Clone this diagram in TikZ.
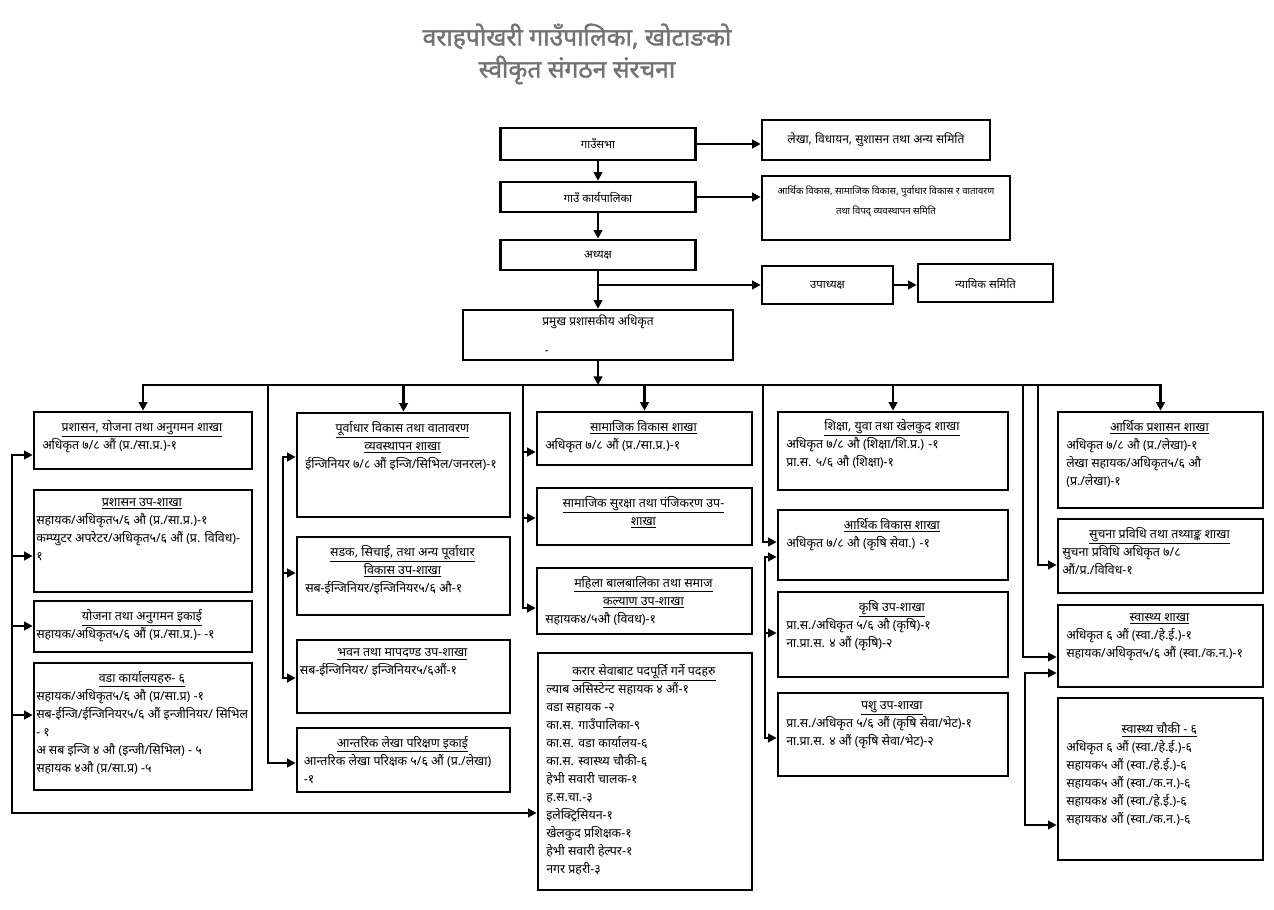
\documentclass[tikz,border=0pt]{standalone}
\usepackage{fontspec}
\setmainfont[Script=Devanagari]{Noto Sans}
\newfontfamily\titlefont[Script=Devanagari, FakeBold=1.6]{Noto Sans}
\usetikzlibrary{arrows.meta,positioning}
\definecolor{titlegray}{RGB}{115,115,115}

\begin{document}
\begin{tikzpicture}[
    x=0.75pt, y=-0.75pt,
    every node/.style={font=\fontsize{8.5}{13.5}\selectfont},
    orgbox/.style={rectangle, draw=black, line width=2pt, inner sep=0pt},
    unittext/.style={inner sep=0pt, align=left, font=\fontsize{9.3}{13.5}\selectfont},
    wire/.style={line width=2pt, line cap=rect},
    conn/.style={line width=2pt, line cap=rect, -{Triangle[length=6.5pt,width=6.5pt]}}
]
\useasboundingbox (0,0) rectangle (1274,910);

% ==================== TITLE ====================
\node[font=\titlefont\fontsize{18.5}{24}\selectfont, text=titlegray, align=center] (title) at (577,54) {वराहपोखरी गाउँपालिका, खोटाङको\\स्वीकृत संगठन संरचना};

% ==================== TOP CHAIN ====================
\node[orgbox, minimum width=146.25pt, minimum height=24pt] (sabha) at (598,144) {गाउँसभा};
\node[orgbox, minimum width=171pt, minimum height=30pt, font=\fontsize{9}{13.5}\selectfont] (samiti1) at (876,140) {लेखा, विधायन, सुशासन तथा अन्य समिति};
\node[orgbox, minimum width=146.25pt, minimum height=22.5pt] (karya) at (598,197) {गाउँ कार्यपालिका};
\node[orgbox, minimum width=186pt, minimum height=48pt] (samiti2) at (886,208) {};
\node[align=center, inner sep=0pt, font=\fontsize{7.2}{15}\selectfont, below=8pt of samiti2.north] (samiti2t) {आर्थिक विकास, सामाजिक विकास, पुर्वाधार विकास र वातावरण\\तथा विपद् व्यवस्थापन समिति};
\node[orgbox, minimum width=146.25pt, minimum height=22.5pt] (adhyaksha) at (598,255) {अध्यक्ष};
\node[orgbox, minimum width=98.25pt, minimum height=28.5pt] (upa) at (827.5,285) {उपाध्यक्ष};
\node[orgbox, minimum width=101.25pt, minimum height=28.5pt] (nyayik) at (985.5,283) {न्यायिक समिति};
\node[orgbox, minimum width=202.5pt, minimum height=37.5pt, align=center, font=\fontsize{9}{13.5}\selectfont] (pramukh) at (598,335) {प्रमुख प्रशासकीय अधिकृत\\[8.25pt]\makebox[0pt][r]{-\hspace{37pt}}};

\draw[conn] (sabha) -- (sabha -| samiti1.west);
\draw[conn] (sabha) -- (karya);
\draw[conn] (karya) -- (karya -| samiti2.west);
\draw[conn] (karya) -- (adhyaksha);
\draw[conn] (adhyaksha) -- (pramukh);
\draw[conn] (adhyaksha.south |- upa) -- (upa);
\draw[conn] (upa) -- (upa -| nyayik.west);

% ==================== COLUMN 1 ====================
\node[orgbox, minimum width=163.5pt, minimum height=42.75pt] (b1) at (143,440.5) {};
\node[orgbox, minimum width=163.5pt, minimum height=76.5pt] (b2) at (143,541) {};
\node[orgbox, minimum width=163.5pt, minimum height=38.25pt] (b3) at (143,626.5) {};
\node[orgbox, minimum width=163.5pt, minimum height=95.25pt] (b4) at (143,726.5) {};
\node[unittext, below right=7pt and 7pt of b1.north west] (b1t) {\makebox[149.5pt]{\underline{प्रशासन, योजना  तथा अनुगमन शाखा}}\\अधिकृत ७/८ औं (प्र./सा.प्र.)-१};
\node[unittext, below right=7pt and 2.5pt of b2.north west] (b2t) {\makebox[158.5pt]{\underline{प्रशासन उप-शाखा}}\\सहायक/अधिकृत५/६ औ (प्र./सा.प्र.)-१\\कम्प्युटर अपरेटर/अधिकृत५/६ औं (प्र. विविध)-\\१};
\node[unittext, below right=7pt and 2.5pt of b3.north west] (b3t) {\makebox[158.5pt]{\underline{योजना तथा अनुगमन इकाई}}\\सहायक/अधिकृत५/६ औं (प्र./सा.प्र.)- -१};
\node[unittext, below right=7pt and 2.5pt of b4.north west] (b4t) {\makebox[158.5pt]{\underline{वडा कार्यालयहरु- ६}}\\सहायक/अधिकृत५/६ औ (प्र/सा.प्र) -१\\सब-ईन्जि/ईन्जिनियर५/६ औं इन्जीनियर/ सिभिल\\- १\\अ सब इन्जि ४ औ (इन्जी/सिभिल) - ५\\सहायक ४औ (प्र/सा.प्र) -५};

% ==================== COLUMN 2 ====================
\node[orgbox, minimum width=159.75pt, minimum height=78pt] (c1) at (403.5,465) {};
\node[orgbox, minimum width=159.75pt, minimum height=58.5pt] (c2) at (403.5,576) {};
\node[orgbox, minimum width=159.75pt, minimum height=54.75pt] (c3) at (403.5,676.5) {};
\node[orgbox, minimum width=159.75pt, minimum height=48pt] (c4) at (403.5,760) {};
\node[unittext, below right=7pt and 7pt of c1.north west] (c1t) {\makebox[145.75pt]{\underline{पूर्वाधार विकास तथा वातावरण}}\\\makebox[145.75pt]{\underline{व्यवस्थापन शाखा}}\\ईन्जिनियर ७/८ औं इन्जि/सिभिल/जनरल)-१};
\node[unittext, below right=7pt and 7pt of c2.north west] (c2t) {\makebox[145.75pt]{\underline{सडक, सिचाई, तथा अन्य पूर्वाधार}}\\\makebox[145.75pt]{\underline{विकास उप-शाखा}}\\सब-ईन्जिनियर/इन्जिनियर५/६ औ-१};
\node[unittext, below right=7pt and 3pt of c3.north west] (c3t) {\makebox[153.75pt]{\underline{भवन तथा मापदण्ड उप-शाखा}}\\सब-ईन्जिनियर/ इन्जिनियर५/६औं-१};
\node[unittext, below right=7pt and 6pt of c4.north west] (c4t) {\makebox[147.75pt]{\underline{आन्तरिक लेखा परिक्षण इकाई}}\\आन्तरिक लेखा परिक्षक ५/६ औं  (प्र./लेखा)\\-१};

% ==================== COLUMN 3 ====================
\node[orgbox, minimum width=161.25pt, minimum height=39.75pt] (d1) at (644.5,438.5) {};
\node[orgbox, minimum width=161.25pt, minimum height=42.75pt] (d2) at (644.5,516.5) {};
\node[orgbox, minimum width=161.25pt, minimum height=49.5pt] (d3) at (644.5,601) {};
\node[orgbox, minimum width=160.5pt, minimum height=177.75pt] (d4) at (645,771.5) {};
\node[unittext, below right=7pt and 7pt of d1.north west] (d1t) {\makebox[147.25pt]{\underline{सामाजिक विकास शाखा}}\\अधिकृत ७/८ औं (प्र./सा.प्र.)-१};
\node[unittext, below right=7pt and 7pt of d2.north west] (d2t) {\makebox[147.25pt]{\underline{सामाजिक सुरक्षा तथा पंजिकरण उप-}}\\\makebox[147.25pt]{\underline{शाखा}}};
\node[unittext, below right=7pt and 7pt of d3.north west] (d3t) {\makebox[147.25pt]{\underline{महिला बालबालिका तथा समाज}}\\\makebox[147.25pt]{\underline{कल्याण उप-शाखा}}\\सहायक४/५औ (विवध)-१};
\node[unittext, below right=9pt and 7pt of d4.north west] (d4t) {\makebox[146.5pt]{\underline{करार सेवाबाट पदपूर्ति गर्ने पदहरु}}\\ल्याब असिस्टेन्ट सहायक ४ औं-१\\वडा सहायक -२\\का.स. गाउँपालिका-९\\का.स. वडा कार्यालय-६\\का.स. स्वास्थ्य चौकी-६\\हेभी सवारी चालक-१\\ह.स.चा.-३\\इलेक्ट्रिसियन-१\\खेलकुद प्रशिक्षक-१\\हेभी सवारी हेल्पर-१\\नगर प्रहरी-३};

% ==================== COLUMN 4 ====================
\node[orgbox, minimum width=172.5pt, minimum height=58.5pt] (e1) at (893,451) {};
\node[orgbox, minimum width=172.5pt, minimum height=52.5pt] (e2) at (893,545) {};
\node[orgbox, minimum width=172.5pt, minimum height=63.75pt] (e3) at (893,634.5) {};
\node[orgbox, minimum width=172.5pt, minimum height=62.25pt] (e4) at (893,734.5) {};
\node[unittext, below right=6pt and 7pt of e1.north west] (e1t) {\makebox[158.5pt]{\underline{शिक्षा, युवा तथा खेलकुद शाखा}}\\अधिकृत ७/८ औ (शिक्षा/शि.प्र.) -१\\प्रा.स. ५/६ औ (शिक्षा)-१};
\node[unittext, below right=7pt and 7pt of e2.north west] (e2t) {\makebox[158.5pt]{\underline{आर्थिक विकास शाखा}}\\अधिकृत ७/८ औ (कृषि सेवा.) -१};
\node[unittext, below right=7pt and 7pt of e3.north west] (e3t) {\makebox[158.5pt]{\underline{कृषि उप-शाखा}}\\प्रा.स./अधिकृत ५/६ औ (कृषि)-१\\ना.प्रा.स. ४ औं (कृषि)-२};
\node[unittext, below right=7pt and 7pt of e4.north west] (e4t) {\makebox[158.5pt]{\underline{पशु उप-शाखा}}\\प्रा.स./अधिकृत ५/६ औं (कृषि सेवा/भेट)-१\\ना.प्रा.स. ४ औं (कृषि सेवा/भेट)-२};

% ==================== COLUMN 5 ====================
\node[orgbox, minimum width=153.75pt, minimum height=72pt] (f1) at (1160.5,460) {};
\node[orgbox, minimum width=153.75pt, minimum height=55.5pt] (f2) at (1160.5,556) {};
\node[orgbox, minimum width=153.75pt, minimum height=61.5pt] (f3) at (1160.5,646) {};
\node[orgbox, minimum width=153.75pt, minimum height=121.5pt] (f4) at (1160.5,779) {};
\node[unittext, below right=7pt and 7pt of f1.north west] (f1t) {\makebox[139.75pt]{\underline{आर्थिक प्रशासन शाखा}}\\अधिकृत ७/८ औ (प्र./लेखा)-१\\लेखा सहायक/अधिकृत५/६ औ\\(प्र./लेखा)-१};
\node[unittext, below right=7pt and 4pt of f2.north west] (f2t) {\makebox[145.75pt]{\underline{सुचना प्रविधि तथा तथ्याङ्क शाखा}}\\सुचना प्रविधि अधिकृत ७/८\\औं/प्र./विविध-१};
\node[unittext, below right=7pt and 7pt of f3.north west] (f3t) {\makebox[139.75pt]{\underline{स्वास्थ्य शाखा}}\\अधिकृत ६ औं (स्वा./हे.ई.)-१\\सहायक/अधिकृत५/६ औं (स्वा./क.न.)-१};
\node[unittext, below right=19pt and 7pt of f4.north west] (f4t) {\makebox[139.75pt]{\underline{स्वास्थ्य चौकी - ६}}\\अधिकृत ६ औं (स्वा./हे.ई.)-६\\सहायक५ औं (स्वा./हे.ई.)-६\\सहायक५ औं (स्वा./क.न.)-६\\सहायक४ औं (स्वा./हे.ई.)-६\\सहायक४ औं (स्वा./क.न.)-६};

% ==================== BUS ====================
\coordinate (bus) at (598,385);
\draw[conn] (pramukh) -- (bus);
\draw[conn] (bus) -| (b1);
\draw[conn] (bus) -| (f1);
\foreach \n in {c1,d1,e1}
    \draw[conn] (bus -| \n) -- (\n);

% ==================== BRANCH LINES ====================
% column 1
\foreach \y/\n in {455/b1, 556/b2, 626/b3, 715/b4} {
    \coordinate (j\n) at (12,\y);
    \draw[conn] (j\n) -- (j\n -| \n.west);
}
\coordinate (jd4) at (12,813);
\draw[wire] (jb1) -- (jd4);
\draw[conn] (jd4) -- (jd4 -| d4.west);

% column 2
\coordinate (jc4) at (268,763);
\draw[conn] (jc4 |- bus) -- (jc4) -- (jc4 -| c4.west);
\foreach \y/\n in {457/c1, 573/c2, 678/c3} {
    \coordinate (j\n) at (283,\y);
    \draw[conn] (j\n) -- (j\n -| \n.west);
}
\draw[wire] (jc1) -- (jc3);

% column 3
\foreach \y/\n in {452/d1, 518/d2, 608/d3} {
    \coordinate (j\n) at (523,\y);
    \draw[conn] (j\n) -- (j\n -| \n.west);
}
\draw[wire] (jd1 |- bus) -- (jd3);

% column 4
\coordinate (je2a) at (763,542);
\draw[conn] (je2a |- bus) -- (je2a) -- (je2a -| e2.west);
\foreach \y/\n in {557/e2, 633/e3, 738/e4} {
    \coordinate (j\n) at (765,\y);
    \draw[conn] (j\n) -- (j\n -| \n.west);
}
\draw[wire] (je2) -- (je4);

% column 5
\coordinate (jf3a) at (1023,657);
\draw[conn] (jf3a |- bus) -- (jf3a) -- (jf3a -| f3.west);
\coordinate (jf2) at (1038,565);
\draw[conn] (jf2 |- bus) -- (jf2) -- (jf2 -| f2.west);
\foreach \y/\n in {673/f3, 825/f4} {
    \coordinate (j\n) at (1025,\y);
    \draw[conn] (j\n) -- (j\n -| \n.west);
}
\draw[wire] (jf3) -- (jf4);

\end{tikzpicture}
\end{document}
